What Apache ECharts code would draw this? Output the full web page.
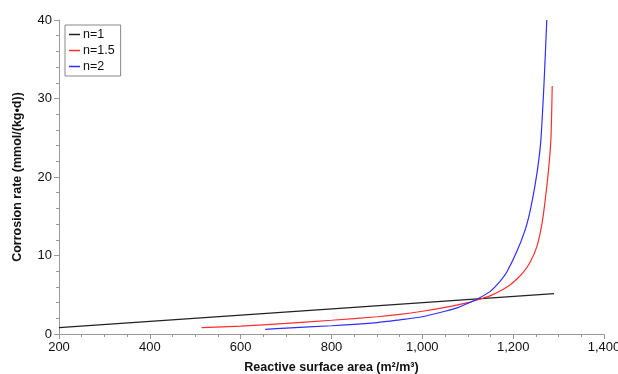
<!DOCTYPE html>
<html>
<head>
<meta charset="utf-8">
<script src="https://cdn.jsdelivr.net/npm/echarts@6/dist/echarts.min.js"></script>
<style>
html,body{margin:0;padding:0;background:#fff;}
#chart{width:618px;height:374px;}
</style>
</head>
<body>
<div id="chart"></div>
<script>
const seriesNames = ['n=1', 'n=1.5', 'n=2'];
const n1 = [[200,0.8],[1290,5.15]];
const n15 = [[514,0.8],[600,1.0],[700,1.35],[800,1.75],[900,2.2],[950,2.5],[1000,2.9],[1050,3.4],[1100,4.0],[1130,4.5],[1149,4.85],[1170,5.45],[1193,6.25],[1210,7.1],[1223,7.9],[1237,9.1],[1252,11.1],[1263,13.9],[1270,16.8],[1278,21.0],[1283,24.7],[1286,31.6]];
const n2 = [[654,0.6],[700,0.75],[800,1.05],[900,1.45],[950,1.8],[1000,2.2],[1050,2.9],[1080,3.4],[1100,3.9],[1120,4.42],[1149,5.4],[1171,6.7],[1186,7.9],[1208,10.5],[1226,13.2],[1237,15.6],[1248,18.9],[1256,22.0],[1261,24.7],[1268,32.0],[1274,40]];
const xTicks = [200,400,600,800,1000,1200,1400];
const yTicks = [0,10,20,30,40];
const colors = ['#222222','#ff2e2e','#2e2eff'];

const chart = echarts.init(document.getElementById('chart'), null, {renderer:'canvas'});
const font = 'Liberation Sans, Arial, Helvetica, sans-serif';
chart.setOption({
  animation:false,
  grid:{left:59,right:14,top:20,bottom:40,containLabel:false,outerBoundsMode:'none'},
  legend:{
    orient:'vertical', left:65, top:25,
    data:seriesNames,
    icon:'rect', itemWidth:11, itemHeight:1.5, itemGap:3,
    padding:[3,6,3,4],
    borderColor:'#888', borderWidth:1,
    textStyle:{fontFamily:font,fontSize:12.5,color:'#111',padding:[0,0,0,-2]}
  },
  xAxis:{
    type:'value', min:xTicks[0], max:xTicks[xTicks.length-1], interval:200,
    name:'Reactive surface area (m²/m³)', nameLocation:'middle', nameGap:27,
    nameTextStyle:{fontFamily:font,fontSize:12.5,fontWeight:'bold',color:'#111'},
    axisLine:{lineStyle:{color:'#999',width:1}},
    axisTick:{show:true,length:5,inside:false,lineStyle:{color:'#999'}},
    minorTick:{show:true,splitNumber:4,length:3,lineStyle:{color:'#999'}},
    splitLine:{show:false},
    axisLabel:{fontFamily:font,fontSize:13,color:'#111',margin:7,
      formatter:v=>v.toLocaleString('en-US')}
  },
  yAxis:{
    type:'value', min:yTicks[0], max:yTicks[yTicks.length-1], interval:10,
    name:'Corrosion rate (mmol/(kg•d))', nameLocation:'middle', nameGap:35,
    nameTextStyle:{fontFamily:font,fontSize:12.5,fontWeight:'bold',color:'#111'},
    axisLine:{show:true,lineStyle:{color:'#999',width:1}},
    axisTick:{show:true,length:5,inside:false,lineStyle:{color:'#999'}},
    minorTick:{show:true,splitNumber:5,length:3,lineStyle:{color:'#999'}},
    splitLine:{show:false},
    axisLabel:{fontFamily:font,fontSize:13,color:'#111',margin:7}
  },
  series:[
    {name:seriesNames[0],type:'line',data:n1,showSymbol:false,smooth:false,lineStyle:{color:colors[0],width:1.2},itemStyle:{color:colors[0]}},
    {name:seriesNames[1],type:'line',data:n15,showSymbol:false,smooth:0.25,lineStyle:{color:colors[1],width:1.2},itemStyle:{color:colors[1]}},
    {name:seriesNames[2],type:'line',data:n2,showSymbol:false,smooth:0.25,lineStyle:{color:colors[2],width:1.2},itemStyle:{color:colors[2]}}
  ]
});
</script>
</body>
</html>
